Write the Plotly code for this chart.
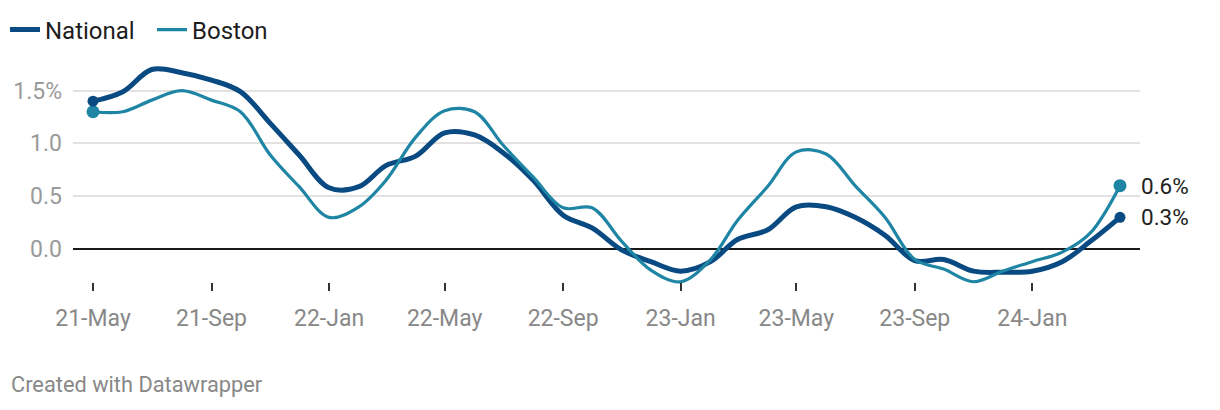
import pandas as pd
import plotly.graph_objects as go

months = pd.date_range("2021-05-01", periods=36, freq="MS")
national = [1.40, 1.49, 1.70, 1.67, 1.60, 1.49, 1.19, 0.89, 0.58, 0.59, 0.79, 0.88,
            1.10, 1.08, 0.91, 0.65, 0.32, 0.20, -0.01, -0.12, -0.21, -0.12, 0.09, 0.18,
            0.40, 0.40, 0.30, 0.13, -0.11, -0.10, -0.21, -0.22, -0.21, -0.12, 0.07, 0.30]
boston = [1.30, 1.30, 1.41, 1.50, 1.41, 1.30, 0.89, 0.59, 0.30, 0.40, 0.65, 1.06,
          1.31, 1.30, 0.98, 0.68, 0.39, 0.39, 0.07, -0.20, -0.31, -0.10, 0.27, 0.59,
          0.92, 0.90, 0.60, 0.30, -0.10, -0.19, -0.31, -0.21, -0.12, -0.03, 0.15, 0.60]
series_names = ["National", "Boston"]
end_labels = ["0.3%", "0.6%"]
y_tickvals = [0, 0.5, 1.0, 1.5]
y_ticktext = ["0.0", "0.5", "1.0", "1.5%"]

NAT_COLOR = "#0a4a82"
BOS_COLOR = "#1e85a4"
FONT = "Roboto"

fig = go.Figure()

fig.add_trace(go.Scatter(
    x=months, y=national, name=series_names[0], mode="lines",
    line=dict(color=NAT_COLOR, width=5, shape="spline", smoothing=1.0),
    legendrank=1,
))
fig.add_trace(go.Scatter(
    x=months, y=boston, name=series_names[1], mode="lines",
    line=dict(color=BOS_COLOR, width=3.2, shape="spline", smoothing=1.0),
    legendrank=2,
))
# end-point dots
fig.add_trace(go.Scatter(
    x=[months[0], months[-1]], y=[boston[0], boston[-1]], mode="markers",
    marker=dict(size=13, color=BOS_COLOR, opacity=1, line=dict(width=0)),
    showlegend=False, hoverinfo="skip",
))
fig.add_trace(go.Scatter(
    x=[months[0], months[-1]], y=[national[0], national[-1]], mode="markers",
    marker=dict(size=11, color=NAT_COLOR, opacity=1, line=dict(width=0)),
    showlegend=False, hoverinfo="skip",
))

for val, lab in [(national[-1], end_labels[0]), (boston[-1], end_labels[1])]:
    fig.add_annotation(x=months[-1], y=val, text=lab, showarrow=False,
                       xanchor="left", yanchor="middle", xshift=19,
                       font=dict(family=FONT, size=22.5, color="#222222"))

fig.add_annotation(xref="paper", yref="paper", x=-0.06, y=-0.35,
                   text="Created with Datawrapper", showarrow=False,
                   xanchor="left", yanchor="middle",
                   font=dict(family=FONT, size=21.8, color="#888888"))

fig.update_layout(
    width=1220, height=410,
    margin=dict(l=73, r=80, t=60, b=110, autoexpand=False),
    paper_bgcolor="white", plot_bgcolor="white",
    font=dict(family=FONT),
    showlegend=True,
    legend=dict(orientation="h", xref="container", yref="container",
                x=5 / 1220, y=1 - 30 / 410, xanchor="left", yanchor="middle",
                font=dict(family=FONT, size=24, color="#1d1d1d"),
                itemwidth=30, traceorder="normal",
                entrywidth=102, entrywidthmode="pixels"),
    xaxis=dict(
        type="date",
        range=["2021-04-10 05:45", "2024-04-21 18:15"],
        tick0="2021-05-01", dtick="M4", tickformat="%y-%b",
        showgrid=False, zeroline=False, showline=False,
        ticks="outside", ticklen=8, tickwidth=2, tickcolor="#333333",
        tickfont=dict(family=FONT, size=23, color="#888888"),
        ticklabelstandoff=7, automargin=False,
        anchor="free", position=0.075,
    ),
    yaxis=dict(
        range=[-0.483, 1.790],
        tickvals=y_tickvals, ticktext=y_ticktext,
        showgrid=True, gridcolor="#e2e2e2", gridwidth=1.5,
        zeroline=True, zerolinecolor="#1a1a1a", zerolinewidth=2,
        showline=False, ticks="", automargin=False,
        tickfont=dict(family=FONT, size=23, color="#9a9a9a"),
        ticklabelstandoff=10,
    ),
)

fig.write_html("out.html")
